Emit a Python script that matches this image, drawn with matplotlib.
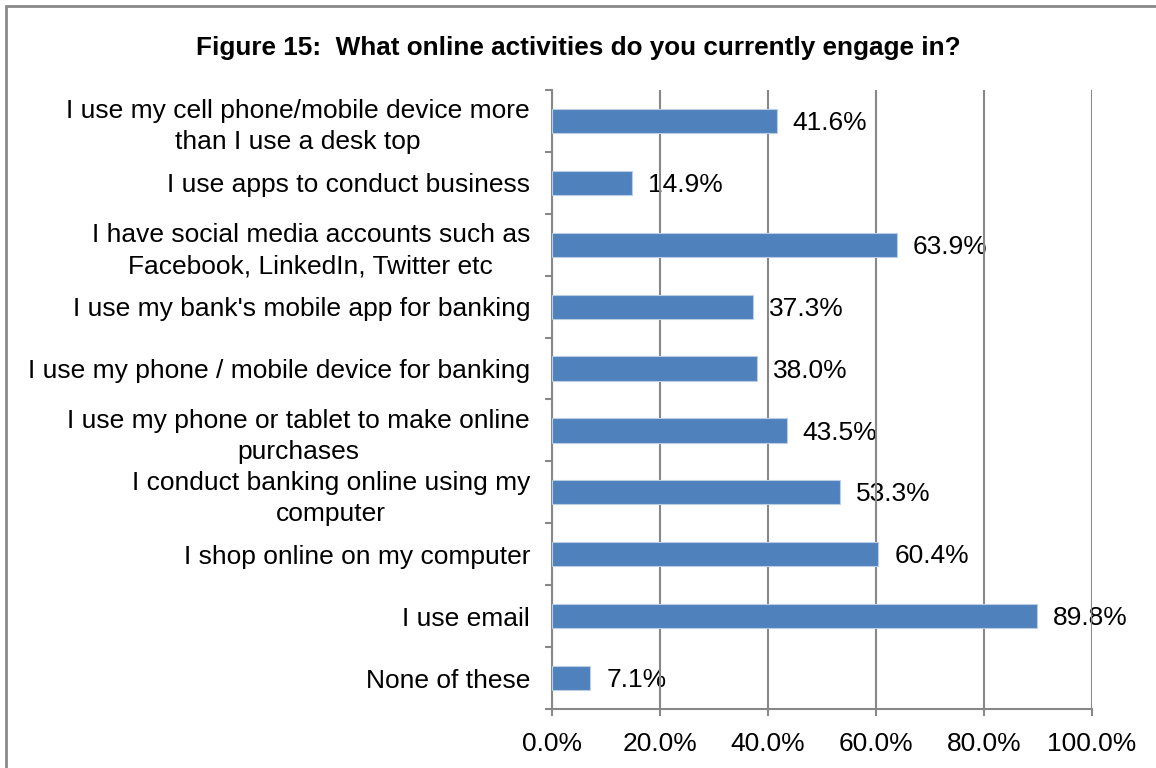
import matplotlib
matplotlib.use("Agg")
import matplotlib.pyplot as plt
from matplotlib.patches import Rectangle
from matplotlib.ticker import FixedLocator

plt.rcParams['font.family'] = ['Liberation Sans', 'DejaVu Sans']

title = "Figure 15:  What online activities do you currently engage in?"
categories = [
    "I use my cell phone/mobile device more\nthan I use a desk top",
    "I use apps to conduct business",
    "I have social media accounts such as\nFacebook, LinkedIn, Twitter etc",
    "I use my bank's mobile app for banking",
    "I use my phone / mobile device for banking",
    "I use my phone or tablet to make online\npurchases",
    "I conduct banking online using my\ncomputer",
    "I shop online on my computer",
    "I use email",
    "None of these",
]
values = [41.6, 14.9, 63.9, 37.3, 38.0, 43.5, 53.3, 60.4, 89.8, 7.1]
x_ticks = [0, 20, 40, 60, 80, 100]

bar_color = "#4F81BD"
grid_color = "#888888"
fs = 19

fig = plt.figure(figsize=(11.56, 7.68), dpi=100)
ax = fig.add_axes([552 / 1156, 1 - 709 / 768, 540 / 1156, 619 / 768])

pos = list(range(len(categories)))
bars = ax.barh(pos, values, height=0.39, color=bar_color,
               edgecolor="#B9CDE5", linewidth=0.8, zorder=3)

# value labels sit under the gridlines, as in the original chart
for p, v in zip(pos, values):
    ax.annotate(f"{v:.1f}%", xy=(v, p), xytext=(11.5, -1.5),
                textcoords="offset points", ha="left", va="center",
                fontsize=fs, color="black", zorder=0.2)

ax.set_xlim(0, 100)
ax.set_ylim(len(categories) - 0.5, -0.5)

ax.set_xticks(x_ticks)
ax.set_xticklabels([f"{t:.1f}%" for t in x_ticks], fontsize=fs)
ax.xaxis.grid(True, color=grid_color, linewidth=1.5, zorder=0.5)
ax.set_axisbelow(True)

ax.set_yticks(pos)
ax.set_yticklabels(categories, fontsize=fs)
for lbl in ax.get_yticklabels():
    lbl.set_multialignment("center")
    lbl.set_linespacing(1.37)
ax.yaxis.set_minor_locator(FixedLocator([i - 0.5 for i in range(len(categories) + 1)]))
ax.tick_params(axis="y", which="major", length=0, pad=15.8)
ax.tick_params(axis="y", which="minor", length=5, width=1.5, color=grid_color, direction="out")
ax.tick_params(axis="x", which="major", length=5, width=1.5, color=grid_color,
               direction="out", pad=11.5)

for side in ("top", "right"):
    ax.spines[side].set_visible(False)
for side in ("left", "bottom"):
    ax.spines[side].set_color(grid_color)
    ax.spines[side].set_linewidth(1.5)

fig.text(0.5, 1 - 48.5 / 768, title, ha="center", va="center",
         fontsize=18.8, fontweight="bold")

# chart frame, running off the right and bottom edges
fig.patches.append(Rectangle((6 / 1156, -0.1), 1.2, 1 - 6 / 768 + 0.1,
                             transform=fig.transFigure, fill=False,
                             edgecolor="#898989", linewidth=2))

fig.savefig("out.png", dpi=100)
